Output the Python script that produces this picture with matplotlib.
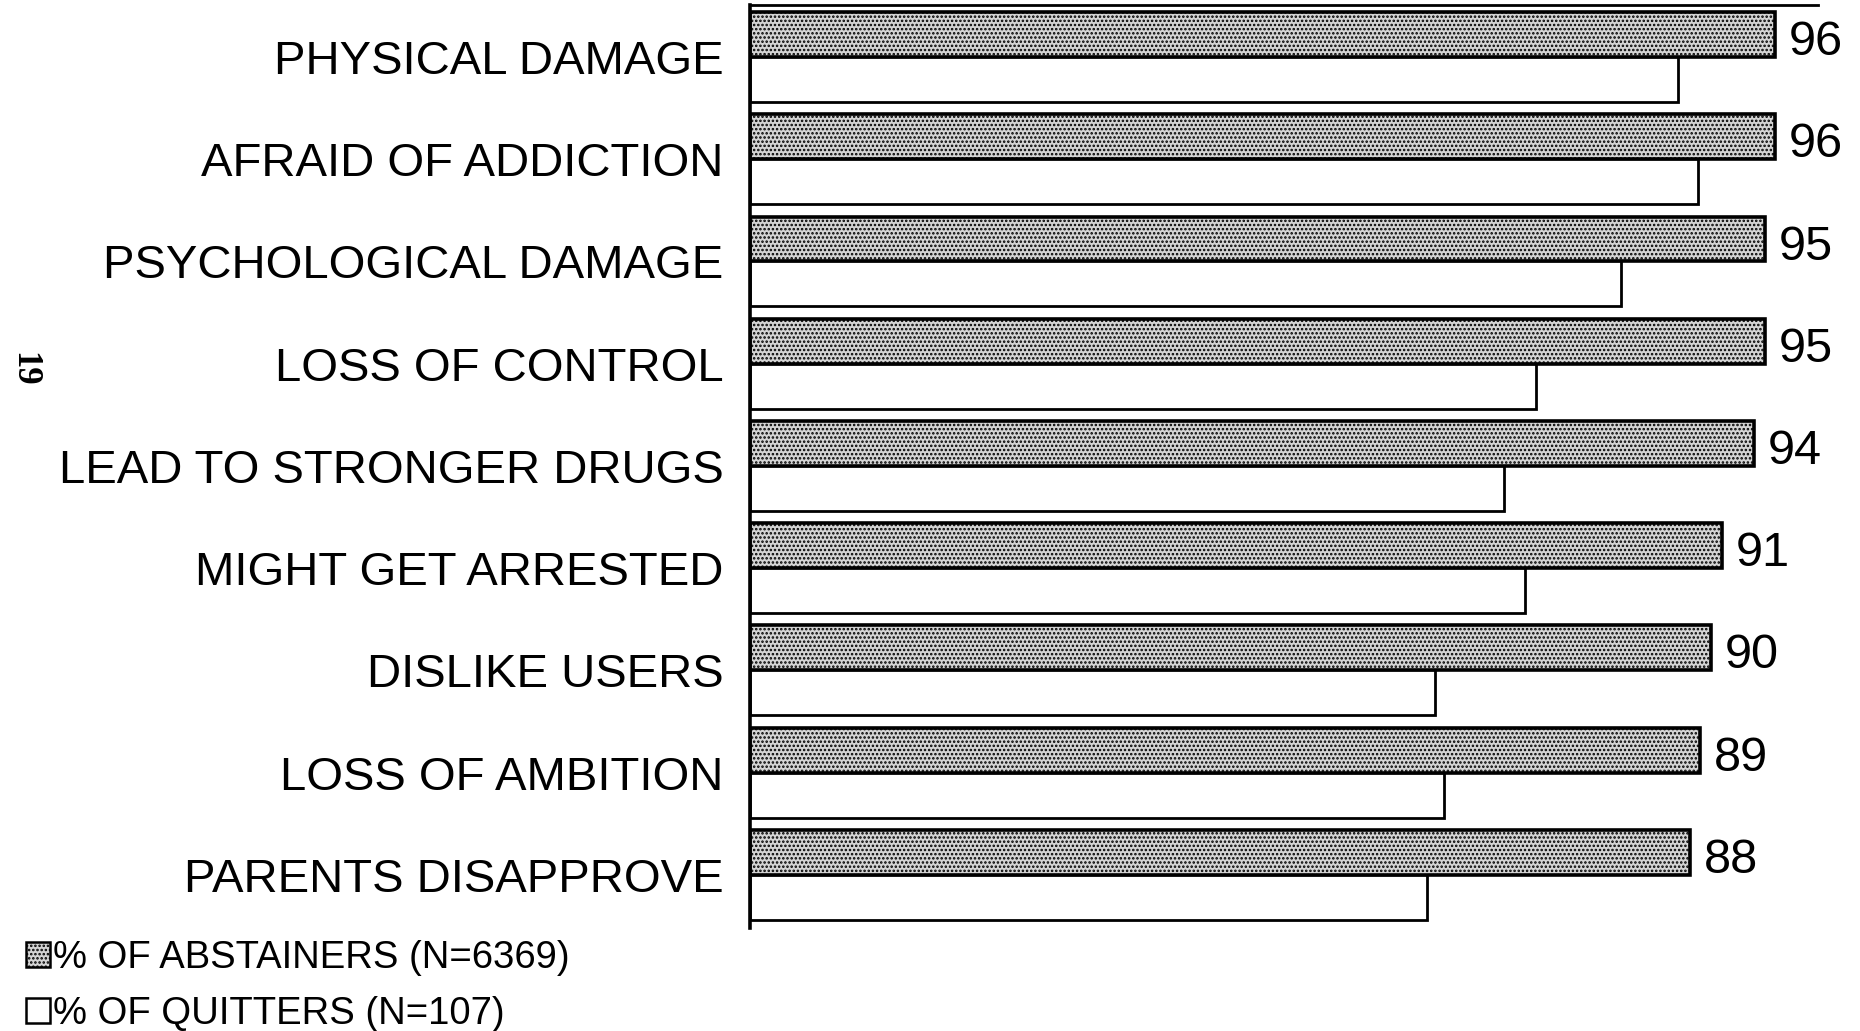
import numpy as np
import matplotlib.pyplot as plt
from matplotlib.patches import Patch

plt.rcParams['font.family'] = ['Liberation Sans', 'DejaVu Sans']
plt.rcParams['hatch.linewidth'] = 1.2
plt.rcParams['hatch.color'] = '#555555'

# reasons, top to bottom
reasons = ["PHYSICAL DAMAGE", "AFRAID OF ADDICTION", "PSYCHOLOGICAL DAMAGE",
           "LOSS OF CONTROL", "LEAD TO STRONGER DRUGS", "MIGHT GET ARRESTED",
           "DISLIKE USERS", "LOSS OF AMBITION", "PARENTS DISAPPROVE"]
abstainers = [96, 96, 95, 95, 94, 91, 90, 89, 88]
quitters = [86.9, 88.8, 81.6, 73.6, 70.6, 72.6, 64.1, 65.0, 63.4]

labels = ["% OF ABSTAINERS (N=6369)", "% OF QUITTERS (N=107)"]

fig = plt.figure(figsize=(18.6, 10.31), dpi=100)
ax = fig.add_axes([0.4032, 0.1, 0.5742, 0.8952])

y = np.arange(len(reasons))
h = 0.44

ax.barh(y - h / 2, abstainers, height=h, color='#d4d4d4', hatch='....',
        edgecolor='black', linewidth=2.6)
ax.barh(y + h / 2, quitters, height=h, color='white',
        edgecolor='black', linewidth=2.0)

for i, v in enumerate(abstainers):
    ax.text(v + 1.3, i - h / 2 + 0.03, str(v), va='center_baseline', ha='left',
            fontsize=35)

ax.set_xlim(0, 100)
ax.set_ylim(8.52, -0.51)
ax.set_yticks(y)
ax.set_yticklabels(reasons, fontsize=34)
ax.tick_params(axis='y', length=0, pad=19)
ax.set_xticks([])
ax.spines['right'].set_visible(False)
ax.spines['bottom'].set_visible(False)
ax.spines['left'].set_linewidth(2.6)
ax.spines['top'].set_linewidth(2.0)

# page number from the scan
fig.text(0.0125, 0.642, "19", rotation=-90, fontsize=25, fontweight='bold',
         family='Liberation Serif', ha='center', va='center')

handles = [Patch(facecolor='#d4d4d4', hatch='....', edgecolor='black', linewidth=1.8),
           Patch(facecolor='white', edgecolor='black', linewidth=1.8)]
fig.legend(handles, labels, loc='upper left', bbox_to_anchor=(0.014, 0.088),
           frameon=False, fontsize=27.5, handlelength=0.62, handleheight=0.62,
           handletextpad=0.08, labelspacing=0.52, borderpad=0, borderaxespad=0)

fig.savefig('out.png', dpi=100)
